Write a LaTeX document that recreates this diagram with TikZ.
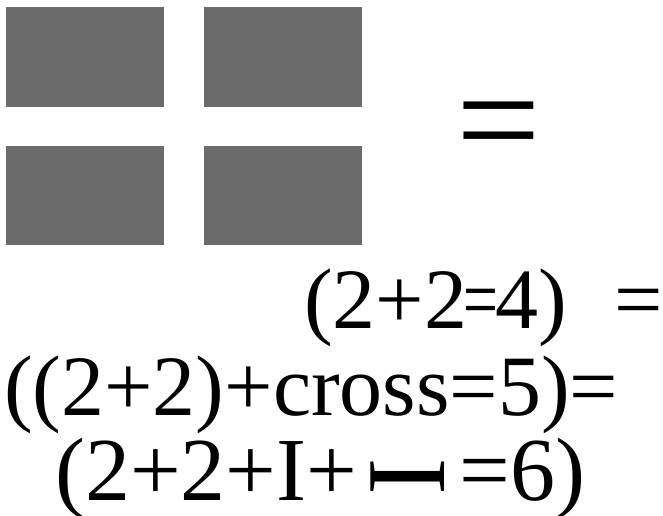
\documentclass[tikz,border=0pt]{standalone}
\usepackage{fontspec}
\setmainfont{Liberation Serif}
\usepackage{graphicx}
\definecolor{tilegray}{RGB}{107,107,107}

\begin{document}
\begin{tikzpicture}[x=1pt,y=-1pt,line cap=round,line join=round,
  tile/.style={fill=tilegray},
  sumline/.style={inner sep=0pt,font=\fontsize{86}{100}\selectfont}]
\useasboundingbox (0,0) rectangle (663,515);
% the four tiles with the white cross between them
\fill[tile] (6,7) rectangle (164,107);
\fill[tile] (204,7) rectangle (362,107);
\fill[tile] (6,146) rectangle (164,245);
\fill[tile] (204,146) rectangle (362,245);
\node[inner sep=0pt,font=\fontsize{150}{160}\selectfont] (bigeq) at (499,136) {=};
% the three sums
\node[sumline,anchor=base east] (sumfour) at (663,328) {(2+2\kern-0.04em\scalebox{0.72}[1]{=}\kern-0.04em4)\hspace{0.55em}=};
\node[sumline,anchor=base west] (sumfive) at (4,415) {((2+2)+cross=5)=};
\node[sumline,anchor=base west,font=\fontsize{90}{100}\selectfont] (sumsix) at (55,500) {(2+2+I+\hspace{0.15em}\raisebox{0.05em}{\scalebox{1.25}{\rotatebox{90}{I}}}\hspace{0.17em}=6)};
\end{tikzpicture}
\end{document}
